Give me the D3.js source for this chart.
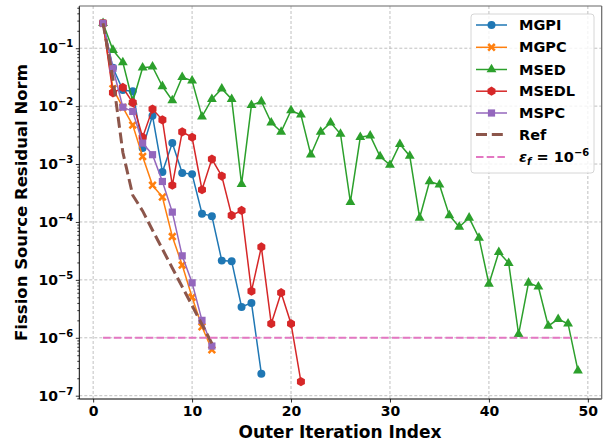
<!DOCTYPE html>
<html><head><meta charset="utf-8">
<script src="https://cdn.jsdelivr.net/npm/d3@7"></script>
<style>body{margin:0;background:#fff;} svg{display:block;font-family:"DejaVu Sans",sans-serif;}</style>
</head><body>
<svg id="c" width="607" height="444"></svg>
<script>
const iterMGPI = d3.range(1, 18);
const MGPI = [0.27, 0.046, 0.019, 0.018, 0.0019, 0.0068, 7.3e-4, 2.3e-3, 7e-4, 6.7e-4, 1.39e-4, 1.26e-4, 2.15e-5, 2.1e-5, 3.4e-6, 4e-6, 2.4e-7];
const iterMGPC = d3.range(1, 13);
const MGPC = [0.27, 0.02, 0.0095, 0.0047, 0.00135, 4.3e-4, 2.7e-4, 5.6e-5, 1.8e-5, 5e-6, 1.55e-6, 6.2e-7];
const iterMSED = d3.range(1, 50);
const MSED = [0.27, 0.093, 0.057, 0.012, 0.046, 0.048, 0.022, 0.0125, 0.0316, 0.0274,
  0.0066, 0.0132, 0.020, 0.0132, 4.5e-4, 0.0104, 0.012, 0.0052, 0.0036, 0.0084,
  0.0071, 0.00145, 0.0036, 0.0052, 0.0033, 2.2e-4, 0.0029, 0.0031, 0.00135, 9.7e-4,
  0.0022, 0.00138, 1.18e-4, 5e-4, 4.4e-4, 1.3e-4, 8.2e-5, 1.18e-4, 5.3e-5, 8.5e-6,
  3e-5, 1.95e-5, 1.15e-6, 8.9e-6, 7.6e-6, 1.6e-6, 2.1e-6, 1.75e-6, 2.7e-7];
const iterMSEDL = d3.range(1, 22);
const MSEDL = [0.27, 0.017, 0.021, 0.0115, 0.0029, 0.0089, 0.0058, 4.3e-4, 0.0036, 0.0029,
  3.6e-4, 0.00122, 6.2e-4, 1.3e-4, 1.58e-4, 6.4e-6, 3.7e-5, 1.75e-6, 6e-6, 1.75e-6, 1.75e-7];
const iterMSPC = d3.range(1, 13);
const MSPC = [0.27, 0.045, 0.0096, 0.0081, 0.0023, 0.00145, 5e-4, 1.48e-4, 2.6e-5, 8.9e-6, 2.0e-6, 7.2e-7];
const iterRef = d3.range(1, 13);
const Ref = [0.27, 0.03, 0.0016, 2.9e-4, 1.55e-4, 7.2e-5, 3.4e-5, 1.6e-5, 7.6e-6, 3.6e-6, 1.7e-6, 8e-7];
const epsIter = [1, 49];
const epsVal = [1e-6, 1e-6];
const xTicks = [0, 10, 20, 30, 40, 50];
const yTickExps = [-7, -6, -5, -4, -3, -2, -1];
const names = ["MGPI", "MGPC", "MSED", "MSEDL", "MSPC", "Ref"];

const svg = d3.select("#c");
const L = 79.3, R = 601.7, T = 6, B = 399;
const x = d3.scaleLinear().domain([-1.4, 51.4]).range([L, R]);
const y = d3.scaleLog().domain([Math.pow(10, -7.057), Math.pow(10, -0.271)]).range([B, T]);

// grid
const g = svg.append("g");
g.selectAll(".gx").data(xTicks).join("line")
  .attr("x1", d => x(d)).attr("x2", d => x(d)).attr("y1", T).attr("y2", B)
  .attr("stroke", "#b0b0b0").attr("stroke-width", 0.8).attr("stroke-dasharray", "3,2");
g.selectAll(".gy").data(yTickExps).join("line")
  .attr("x1", L).attr("x2", R).attr("y1", d => y(Math.pow(10, d))).attr("y2", d => y(Math.pow(10, d)))
  .attr("stroke", "#b0b0b0").attr("stroke-width", 0.8).attr("stroke-dasharray", "3,2");

// axes
const xAxis = d3.axisBottom(x).tickValues(xTicks).tickSize(3.5).tickPadding(3.5).tickFormat(d3.format("d"));
const ax = svg.append("g").attr("transform", `translate(0,${B})`).call(xAxis);
ax.select(".domain").remove();
ax.selectAll("text").attr("font-size", 14).attr("font-weight", "bold").attr("fill", "#000").attr("font-family", "DejaVu Sans");
ax.selectAll("line").attr("stroke", "#000").attr("stroke-width", 0.8);

const minor = [];
for (let e = -8; e <= 0; e++) for (let m = 2; m <= 9; m++) {
  const v = m * Math.pow(10, e);
  if (v > y.domain()[0] && v < y.domain()[1]) minor.push(v);
}
const ay = svg.append("g").attr("transform", `translate(${L},0)`);
ay.call(d3.axisLeft(y).tickValues(minor).tickSize(2).tickFormat(""));
ay.call(g2 => g2.select(".domain").remove());
const ay2 = svg.append("g").attr("transform", `translate(${L},0)`)
  .call(d3.axisLeft(y).tickValues(yTickExps.map(e => Math.pow(10, e))).tickSize(3.5).tickFormat(""));
ay2.select(".domain").remove();
svg.selectAll("g line").filter(function(){return this.parentNode.classList.contains("tick");}).attr("stroke", "#000").attr("stroke-width", 0.8);

const yl = svg.append("g");
yTickExps.forEach(e => {
  const t = yl.append("text").attr("x", L - 6).attr("y", y(Math.pow(10, e)) + 5)
    .attr("text-anchor", "end").attr("font-size", 14).attr("font-weight", "bold");
  t.append("tspan").text("10");
  t.append("tspan").attr("font-size", 10).attr("dy", -6).text("\u2212" + Math.abs(e));
});

// frame
svg.append("line").attr("x1", L).attr("x2", L).attr("y1", T).attr("y2", B).attr("stroke", "#000").attr("stroke-width", 1);
svg.append("line").attr("x1", L).attr("x2", R).attr("y1", B).attr("y2", B).attr("stroke", "#000").attr("stroke-width", 1);
svg.append("line").attr("x1", L).attr("x2", R).attr("y1", T).attr("y2", T).attr("stroke", "#666").attr("stroke-width", 1.2);
svg.append("line").attr("x1", R).attr("x2", R).attr("y1", T).attr("y2", B).attr("stroke", "#666").attr("stroke-width", 1.2);

// series
const colors = {MGPI: "#1f77b4", MGPC: "#ff7f0e", MSED: "#2ca02c", MSEDL: "#d62728", MSPC: "#9467bd", Ref: "#8c564b"};
const symbols = {MGPI: d3.symbolCircle, MGPC: d3.symbolCross, MSED: d3.symbolTriangle, MSEDL: "hex", MSPC: d3.symbolSquare};
const sizes = {MGPI: 50, MGPC: 34, MSED: 42, MSEDL: 40, MSPC: 52};
const dataSets = {
  MGPI: [iterMGPI, MGPI], MGPC: [iterMGPC, MGPC], MSED: [iterMSED, MSED],
  MSEDL: [iterMSEDL, MSEDL], MSPC: [iterMSPC, MSPC], Ref: [iterRef, Ref]
};
const hexPath = r => { const p = []; for (let i = 0; i < 6; i++) { const a = Math.PI / 6 + i * Math.PI / 3; p.push([r * Math.cos(a), r * Math.sin(a)]); } return "M" + p.map(q => q.join(",")).join("L") + "Z"; };
const xPath = s => { const a = s * 0.42, b = s * 0.18;
  const pts = [[-a, -a + b], [-a + b, -a], [0, -b], [a - b, -a], [a, -a + b], [b, 0], [a, a - b], [a - b, a], [0, b], [-a + b, a], [-a, a - b], [-b, 0]];
  return "M" + pts.map(q => q.join(",")).join("L") + "Z"; };
function markerPath(n) {
  if (n === "MSEDL") return hexPath(4.6);
  if (n === "MGPC") return xPath(10);
  return d3.symbol().type(symbols[n]).size(sizes[n])();
}
const line = d3.line().x(d => x(d[0])).y(d => y(d[1]));
names.forEach(n => {
  const [xs, ys] = dataSets[n];
  const pts = xs.map((v, i) => [v, ys[i]]);
  const gg = svg.append("g");
  if (n === "Ref") {
    gg.append("path").attr("d", line(pts)).attr("fill", "none").attr("stroke", colors[n])
      .attr("stroke-width", 3).attr("stroke-dasharray", "11,4.8");
  } else {
    gg.append("path").attr("d", line(pts)).attr("fill", "none").attr("stroke", colors[n]).attr("stroke-width", 1.5);
    gg.selectAll("path.m").data(pts).join("path").attr("class", "m")
      .attr("transform", d => `translate(${x(d[0])},${y(d[1])})`)
      .attr("d", markerPath(n)).attr("fill", colors[n]);
  }
});
svg.append("path").attr("d", line(epsIter.map((v, i) => [v, epsVal[i]])))
  .attr("fill", "none").attr("stroke", "#e377c2").attr("stroke-width", 2).attr("stroke-dasharray", "7.5,3.2");

// legend
const lg = svg.append("g");
lg.append("rect").attr("x", 471).attr("y", 14).attr("width", 123).attr("height", 159).attr("rx", 3)
  .attr("fill", "#fff").attr("fill-opacity", 0.8).attr("stroke", "#ccc").attr("stroke-width", 0.8);
const legY = [25, 47.3, 69.5, 91.2, 113, 134.5, 157];
names.forEach((n, i) => {
  const yy = legY[i];
  if (n === "Ref") {
    lg.append("line").attr("x1", 476).attr("x2", 507).attr("y1", yy).attr("y2", yy)
      .attr("stroke", colors[n]).attr("stroke-width", 3).attr("stroke-dasharray", "11,4.8");
  } else {
    lg.append("line").attr("x1", 476).attr("x2", 507).attr("y1", yy).attr("y2", yy)
      .attr("stroke", colors[n]).attr("stroke-width", 1.5);
    lg.append("path").attr("transform", `translate(491.5,${yy})`).attr("d", markerPath(n)).attr("fill", colors[n]);
  }
  lg.append("text").attr("x", 519).attr("y", yy + 5).attr("font-size", 14.5).attr("font-weight", "bold").text(n);
});
lg.append("line").attr("x1", 476).attr("x2", 507).attr("y1", legY[6]).attr("y2", legY[6])
  .attr("stroke", "#e377c2").attr("stroke-width", 2).attr("stroke-dasharray", "7.5,3.2");
const et = lg.append("text").attr("x", 519).attr("y", legY[6] + 5).attr("font-size", 14.5).attr("font-weight", "bold");
et.append("tspan").attr("font-style", "italic").text("\u03b5");
et.append("tspan").attr("font-style", "italic").attr("font-size", 10).attr("dy", 3).text("f");
et.append("tspan").attr("dy", -3).text(" = 10");
et.append("tspan").attr("font-size", 10).attr("dy", -6).text("\u22126");

// axis labels
svg.append("text").attr("x", 340).attr("y", 437.5).attr("text-anchor", "middle")
  .attr("font-size", 17).attr("font-weight", "bold").text("Outer Iteration Index");
svg.append("text").attr("transform", `translate(27,${(T + B) / 2}) rotate(-90)`).attr("text-anchor", "middle")
  .attr("font-size", 16.5).attr("font-weight", "bold").text("Fission Source Residual Norm");
</script>
</body></html>
